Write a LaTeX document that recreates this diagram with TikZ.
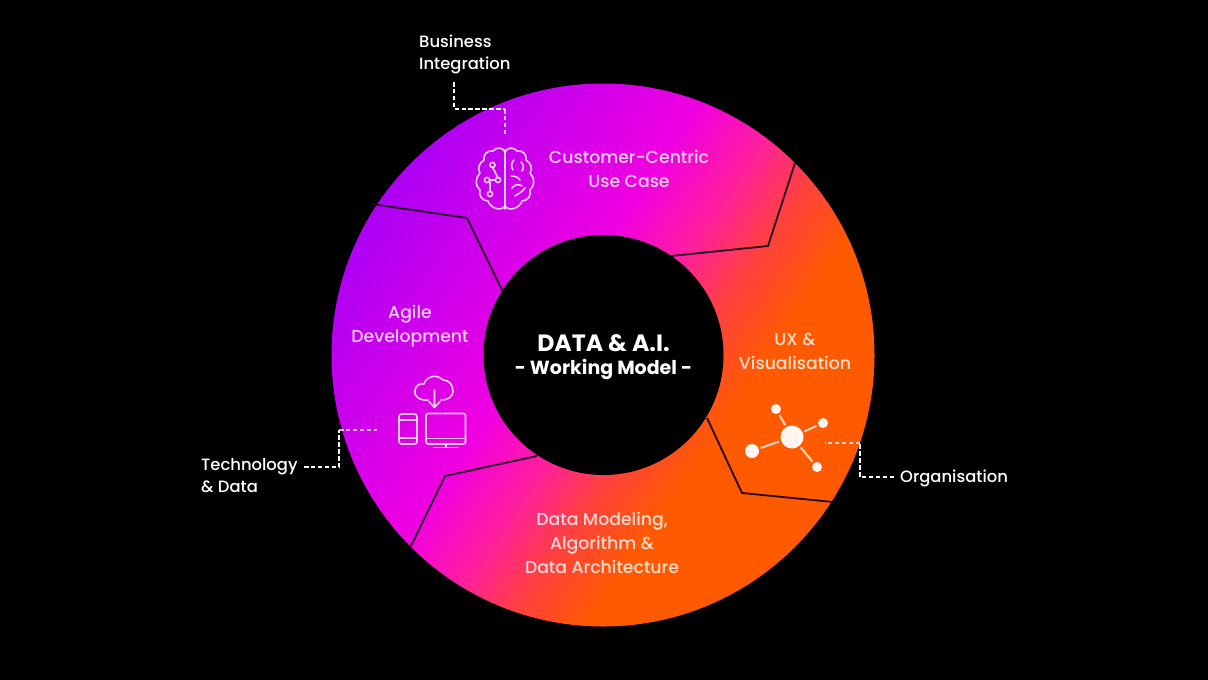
\documentclass[tikz,border=0pt]{standalone}
\usepackage{fontspec}
\setmainfont{Poppins}[UprightFont={* Medium},BoldFont={* Bold}]
\definecolor{gA}{RGB}{170,0,245}
\definecolor{gB}{RGB}{240,0,225}
\definecolor{gC}{RGB}{255,30,160}
\definecolor{gE}{RGB}{255,64,64}
\definecolor{gD}{RGB}{255,90,0}
\definecolor{sep}{RGB}{35,0,35}
% 1bp of shading = 20pt of picture; 50bp lies on the ring centre
\pgfdeclarehorizontalshading{ringgrad}{100bp}{color(0bp)=(gA);color(36bp)=(gA);color(47bp)=(gB);color(50.5bp)=(gC);color(53.5bp)=(gE);color(57bp)=(gD);color(100bp)=(gD)}
\tikzset{
  x=1pt,y=-1pt,
  ringlabel/.style={text=white,text opacity=.8,font=\fontsize{17.3}{24}\selectfont,align=center,inner sep=0pt},
  sidelabel/.style={text=white,font=\fontsize{16.4}{22}\selectfont,align=left,inner sep=0pt},
  seam/.style={draw=sep,line width=1.8pt,line join=miter},
  leader/.style={draw=white,line width=1.3pt,dash pattern=on 4.5pt off 2.4pt},
  innerleader/.style={draw=white,draw opacity=.75,line width=1.3pt,dash pattern=on 4.5pt off 2.4pt},
  icon/.style={draw=white,draw opacity=.8,line width=1.6pt,line cap=round,line join=round},
  dotnet/.style={draw=white,draw opacity=.75,line width=2pt,shorten <=2pt,shorten >=2pt},
  blob/.style={circle,fill=white,fill opacity=.95,inner sep=0pt}
}
\begin{document}
\begin{tikzpicture}
\useasboundingbox[fill=black] (0,0) rectangle (1208,680);
% ring
\begin{scope}
\clip (603,355) circle[radius=271.5];
\shade[shading=ringgrad,shading angle=-34] (103,-145) rectangle (1103,855);
\end{scope}
% seams
\coordinate (s1a) at (372,204);\coordinate (s1b) at (467,218);\coordinate (s1c) at (503,292);
\coordinate (s2a) at (795,163);\coordinate (s2b) at (768,246);\coordinate (s2c) at (671,256);
\coordinate (s3a) at (707,418);\coordinate (s3b) at (742,493);\coordinate (s3c) at (833,502);
\coordinate (s4a) at (537,456);\coordinate (s4b) at (445,476);\coordinate (s4c) at (411,546);
\draw[seam] (s1a)--(s1b)--(s1c);
\draw[seam] (s2a)--(s2b)--(s2c);
\draw[seam] (s3a)--(s3b)--(s3c);
\draw[seam] (s4a)--(s4b)--(s4c);
% hub
\node[circle,fill=black,minimum size=240pt,inner sep=0pt] (hub) at (603.5,355) {};
\node[text=white,inner sep=0pt,font=\fontsize{23.6}{26}\selectfont\bfseries] (hubA) at (603.5,343.5) {DATA \& A.I.};
\node[text=white,inner sep=0pt,font=\fontsize{19}{22}\selectfont\bfseries] (hubB) at (603.5,369.5) {- Working Model -};
% ring labels
\node[ringlabel] (cust) at (629,169) {Customer-Centric\\Use Case};
\node[ringlabel] (agile) at (410,326) {Agile\\Development};
\node[ringlabel] (ux) at (795,351) {UX \&\\Visualisation};
\node[ringlabel] (dm) at (602,543) {Data Modeling,\\Algorithm \&\\Data Architecture};
% side labels
\node[sidelabel,anchor=west] (biz) at (419,54) {Business\\Integration};
\node[sidelabel,anchor=west] (tech) at (201,476) {Technology\\\& Data};
\node[sidelabel,anchor=west] (org) at (900,478) {Organisation};
% leaders
\coordinate (b0) at (454,82);\coordinate (b1) at (454,109);\coordinate (b2) at (505,109);\coordinate (b3) at (505,135);
\coordinate (t0) at (304,467);\coordinate (t1) at (339,467);\coordinate (t2) at (339,430);\coordinate (t3) at (377,430);
\coordinate (o0) at (894,477);\coordinate (o1) at (860,477);\coordinate (o2) at (860,443);\coordinate (o3) at (825,443);
\draw[leader] (b0)--(b1)--(b2);
\draw[innerleader] (b2)--(b3);
\draw[leader] (t0)--(t1)--(t2);
\draw[innerleader] (t2)--(t3);
\draw[leader] (o0)--(o1)--(o2);
\draw[innerleader] (o2)--(o3);
% brain icon
\draw[icon] (505,150)--(505,209);
\draw[icon] (505,152) .. controls (503,147) and (496,147) .. (493,151) .. controls (487,150) and (483,155) .. (484,160) .. controls (479,163) and (477,169) .. (480,173) .. controls (475,178) and (475,186) .. (480,190) .. controls (478,196) and (483,201) .. (488,201) .. controls (490,208) and (501,212) .. (505,206);
\draw[icon] (505,152) .. controls (507,147) and (514,147) .. (517,151) .. controls (523,150) and (527,155) .. (526,160) .. controls (531,163) and (533,169) .. (530,173) .. controls (535,178) and (535,186) .. (530,190) .. controls (532,196) and (527,201) .. (522,201) .. controls (520,208) and (509,212) .. (505,206);
\draw[icon] (492.5,167)--(498,178) (490,182)--(490,191) (490,180)--(495.5,180);
\draw[icon] (492.5,165) circle[radius=2.6];
\draw[icon] (487,180) circle[radius=2.6] (498,180) circle[radius=2.6] (490,194) circle[radius=2.6];
\draw[icon] (514,160) .. controls (511,163) and (511,167) .. (513,170);
\draw[icon] (521,162) .. controls (524,165) and (524,168) .. (522,171);
\draw[icon] (511,176) .. controls (515,176) and (518,177) .. (520,180);
\draw[icon] (512,188) .. controls (515,184) and (519,184) .. (522,186);
\draw[icon] (515,196) .. controls (518,194) and (522,192) .. (525,188);
% devices icon
\draw[icon,rounded corners=2.5pt] (399,414) rectangle (417,444);
\draw[icon] (399,420)--(417,420) (399,438)--(417,438);
\draw[icon,rounded corners=2pt] (426,413.5) rectangle (465.5,444);
\draw[icon] (426,438.5)--(465.5,438.5) (446,444)--(446,447) (434,447.5)--(458,447.5);
\draw[icon] (428,400) .. controls (420,401) and (413,396) .. (415,390) .. controls (416,385) and (420,383) .. (424,384) .. controls (426,377) and (436,373) .. (443,380) .. controls (449,380) and (453,385) .. (453,391) .. controls (453,396) and (449,400) .. (441,400);
\draw[icon] (434.5,390)--(434.5,407) (429,401.5)--(434.5,407.5)--(440,401.5);
% network icon
\node[blob,minimum size=23pt] (nc) at (792,437) {};
\node[blob,minimum size=10pt] (n1) at (776,409) {};
\node[blob,minimum size=10pt] (n2) at (823,423) {};
\node[blob,minimum size=14pt] (n3) at (752,451) {};
\node[blob,minimum size=10pt] (n4) at (817,467) {};
\draw[dotnet] (nc)--(n1);
\draw[dotnet] (nc)--(n2);
\draw[dotnet] (nc)--(n3);
\draw[dotnet] (nc)--(n4);
\end{tikzpicture}
\end{document}
